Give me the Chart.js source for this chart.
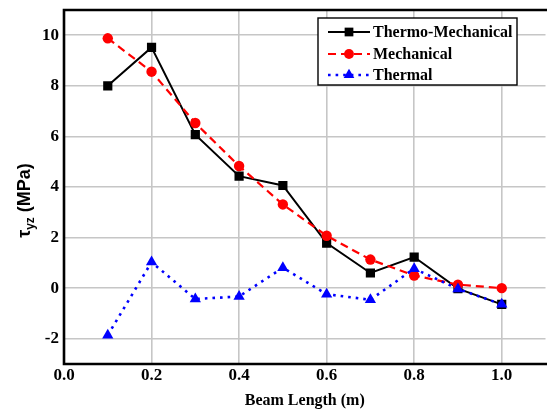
<!DOCTYPE html>
<html>
<head>
<meta charset="utf-8">
<script src="https://cdn.jsdelivr.net/npm/chart.js@4/dist/chart.umd.min.js"></script>
<style>
  html, body { margin: 0; padding: 0; background: #fff; overflow: hidden; }
  #wrap { width: 552px; height: 412px; }
</style>
</head>
<body>
<div id="wrap"><canvas id="c" width="552" height="412"></canvas></div>
<script>
// Beam positions (m) and shear stress tau_yz (MPa) for each load case
const beamLength = [0.1, 0.2, 0.3, 0.4, 0.5, 0.6, 0.7, 0.8, 0.9, 1.0];
const thermoMechanical = [8.0, 9.52, 6.07, 4.43, 4.06, 1.78, 0.6, 1.23, -0.02, -0.64];
const mechanical = [9.88, 8.56, 6.53, 4.83, 3.31, 2.07, 1.13, 0.5, 0.14, 0.0];
const thermal = [-1.86, 1.03, -0.43, -0.33, 0.81, -0.24, -0.46, 0.77, -0.03, -0.64];

const seriesNames = ['Thermo-Mechanical', 'Mechanical', 'Thermal'];
const xTickValues = [0.0, 0.2, 0.4, 0.6, 0.8, 1.0];
const yTickValues = [-2, 0, 2, 4, 6, 8, 10];
const xTitle = 'Beam Length (m)';
const yTitleSymbol = 'τ';
const yTitleSub = 'yz';
const yTitleUnit = ' (MPa)';

const toPoints = ys => beamLength.map((x, i) => ({ x: x, y: ys[i] }));

const tickFont = { family: '"Liberation Serif", "Times New Roman", serif', size: 17, weight: 'bold' };
const gridColor = '#c6c6c6';

const datasets = [
  {
    label: seriesNames[0],
    data: toPoints(thermoMechanical),
    borderColor: '#000', backgroundColor: '#000',
    borderWidth: 2, pointStyle: 'rect', pointRadius: 6.5, pointBorderWidth: 0,
    order: 3
  },
  {
    label: seriesNames[1],
    data: toPoints(mechanical),
    borderColor: '#ff0000', backgroundColor: '#ff0000',
    borderWidth: 2.2, borderDash: [8, 5], pointStyle: 'circle', pointRadius: 5.2, pointBorderWidth: 0,
    order: 2
  },
  {
    label: seriesNames[2],
    data: toPoints(thermal),
    borderColor: '#0000ff', backgroundColor: '#0000ff',
    borderWidth: 2.6, borderDash: [2.6, 5], pointStyle: 'triangle', pointRadius: 6.5, pointBorderWidth: 0,
    order: 1
  }
];

// Axis frame, titles and the boxed legend
const decorations = {
  id: 'decorations',
  beforeDatasetsDraw(chart) {
    const { ctx, chartArea: a } = chart;
    ctx.save();
    ctx.strokeStyle = '#000';
    ctx.lineWidth = 2.6;
    ctx.beginPath();
    ctx.moveTo(a.right + 2, a.top);
    ctx.lineTo(a.left, a.top);
    ctx.lineTo(a.left, a.bottom);
    ctx.lineTo(a.right + 2, a.bottom);
    ctx.stroke();
    ctx.restore();
  },
  afterDraw(chart) {
    const { ctx, chartArea: a } = chart;
    ctx.save();
    // x-axis title
    ctx.fillStyle = '#000';
    ctx.font = 'bold 16px "Liberation Serif", "Times New Roman", serif';
    ctx.textAlign = 'center';
    ctx.textBaseline = 'middle';
    ctx.fillText(xTitle, (a.left + a.right) / 2, 401);

    // y-axis title with subscript
    ctx.translate(24, 200.5);
    ctx.rotate(-Math.PI / 2);
    const big = 'bold 18px "Liberation Sans", Arial, sans-serif';
    const small = 'bold 12px "Liberation Sans", Arial, sans-serif';
    ctx.font = big; const w1 = ctx.measureText(yTitleSymbol).width;
    ctx.font = small; const w2 = ctx.measureText(yTitleSub).width;
    ctx.font = big; const w3 = ctx.measureText(yTitleUnit).width;
    let x = -(w1 + w2 + w3) / 2;
    ctx.textAlign = 'left';
    ctx.textBaseline = 'alphabetic';
    ctx.font = big; ctx.fillText(yTitleSymbol, x, 6); x += w1;
    ctx.font = small; ctx.fillText(yTitleSub, x, 10); x += w2;
    ctx.font = big; ctx.fillText(yTitleUnit, x, 6);
    ctx.restore();

    // legend box
    ctx.save();
    const bx = 318, by = 18, bw = 199, bh = 67;
    ctx.fillStyle = '#fff';
    ctx.fillRect(bx, by, bw, bh);
    ctx.strokeStyle = '#000';
    ctx.lineWidth = 1.4;
    ctx.strokeRect(bx, by, bw, bh);
    const rows = [32, 54, 75];
    chart.data.datasets.forEach((ds, i) => {
      const y = rows[i];
      ctx.save();
      ctx.strokeStyle = ds.borderColor;
      ctx.lineWidth = ds.borderWidth;
      ctx.setLineDash(ds.borderDash || []);
      ctx.beginPath();
      ctx.moveTo(328, y);
      ctx.lineTo(370, y);
      ctx.stroke();
      ctx.setLineDash([]);
      ctx.fillStyle = ds.backgroundColor;
      Chart.helpers.drawPoint(ctx, { pointStyle: ds.pointStyle, rotation: 0, radius: ds.pointRadius * 0.95, borderWidth: 0 }, 349, y);
      ctx.restore();
      ctx.fillStyle = '#000';
      ctx.font = 'bold 16px "Liberation Serif", "Times New Roman", serif';
      ctx.textAlign = 'left';
      ctx.textBaseline = 'middle';
      ctx.fillText(ds.label, 373, y + 1);
    });
    ctx.restore();
  }
};

new Chart(document.getElementById('c'), {
  type: 'line',
  data: { datasets: datasets },
  options: {
    responsive: false,
    devicePixelRatio: 1,
    animation: false,
    layout: { padding: { top: 10, right: 4, left: 0, bottom: 0 } },
    plugins: { legend: { display: false }, tooltip: { enabled: false } },
    scales: {
      x: {
        type: 'linear', min: 0, max: 1.1,
        afterFit: s => { s.height = 48; s.paddingLeft = 0; s.paddingRight = 0; },
        afterBuildTicks: s => { s.ticks = xTickValues.map(v => ({ value: v })); },
        ticks: { font: tickFont, color: '#000', padding: 1, autoSkip: false, maxRotation: 0,
                 callback: v => Number(v).toFixed(1) },
        grid: { color: gridColor, lineWidth: 1.6, drawTicks: false },
        border: { display: false }
      },
      y: {
        type: 'linear', min: -3, max: 11,
        afterFit: s => { s.width = 64; s.paddingTop = 0; s.paddingBottom = 0; },
        afterBuildTicks: s => { s.ticks = yTickValues.map(v => ({ value: v })); },
        ticks: { font: tickFont, color: '#000', padding: 5, callback: v => String(v) },
        grid: { color: gridColor, lineWidth: 1.6, drawTicks: false },
        border: { display: false }
      }
    }
  },
  plugins: [decorations]
});
</script>
</body>
</html>
